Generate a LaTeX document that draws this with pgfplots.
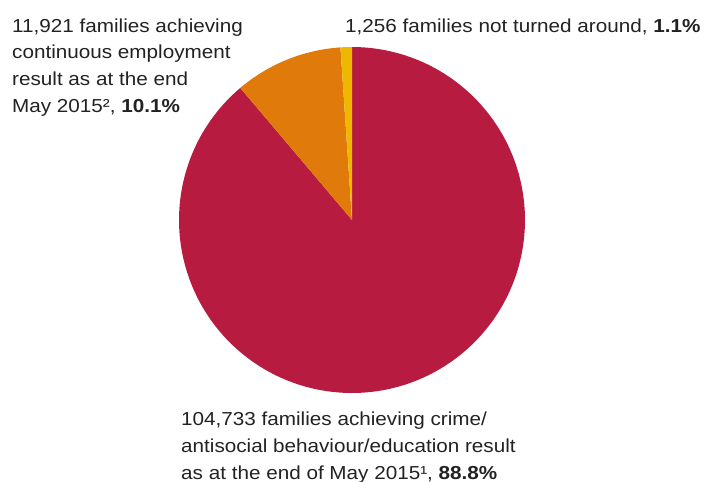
\documentclass[border=0pt]{standalone}
\usepackage{fontspec}
\setmainfont{Liberation Sans}[FakeStretch=1.1]
\usepackage{pgfplots}
\usepackage{pgfplotstable}
\pgfplotsset{compat=1.18}
\definecolor{pieRed}{HTML}{B71C40}
\definecolor{pieOrange}{HTML}{E07A0A}
\definecolor{pieYellow}{HTML}{EFB800}
\definecolor{txt}{HTML}{222222}

\pgfplotstableread{
slice count
crime 104733
employment 11921
notturned 1256
}\piedata

\pgfplotstablegetelem{0}{count}\of\piedata \edef\ca{\pgfplotsretval}
\pgfplotstablegetelem{1}{count}\of\piedata \edef\cb{\pgfplotsretval}
\pgfplotstablegetelem{2}{count}\of\piedata \edef\cc{\pgfplotsretval}
\edef\total{\fpeval{\ca+\cb+\cc}}
\edef\aA{90}
\edef\aB{\fpeval{90-360*\ca/\total}}
\edef\aC{\fpeval{\aB-360*\cb/\total}}
\edef\aD{\fpeval{\aC-360*\cc/\total}}

\begin{document}
\begin{tikzpicture}
\useasboundingbox (0,0) rectangle (707pt,-482pt);
\begin{axis}[at={(352pt,-220pt)}, anchor=center, x=173pt, y=173pt,
  xmin=-1, xmax=1, ymin=-1, ymax=1, hide axis, clip=false, scale only axis]
\addplot[fill=pieRed, draw=none, domain=\aB:\aA, samples=200, variable=\t]
  ({cos(\t)},{sin(\t)}) -- (axis cs:0,0) -- cycle;
\addplot[fill=pieOrange, draw=none, domain=\aC:\aB, samples=60, variable=\t]
  ({cos(\t)},{sin(\t)}) -- (axis cs:0,0) -- cycle;
\addplot[fill=pieYellow, draw=none, domain=\aD:\aC, samples=10, variable=\t]
  ({cos(\t)},{sin(\t)}) -- (axis cs:0,0) -- cycle;
\end{axis}
\begin{scope}[every node/.style={inner sep=0pt, text=txt, align=left,
  font=\fontsize{18.8}{26.6}\selectfont}]
\node[anchor=base west] at (12pt,-112pt) {11,921 families achieving\\continuous employment\\result as at the end\\May 2015², \textbf{10.1\%}};
\node[anchor=base west] at (345pt,-32pt) {1,256 families not turned around, \textbf{1.1\%}};
\node[anchor=base west] at (181pt,-479pt) {104,733 families achieving crime/\\antisocial behaviour/education result\\as at the end of May 2015¹, \textbf{88.8\%}};
\end{scope}
\end{tikzpicture}
\end{document}
